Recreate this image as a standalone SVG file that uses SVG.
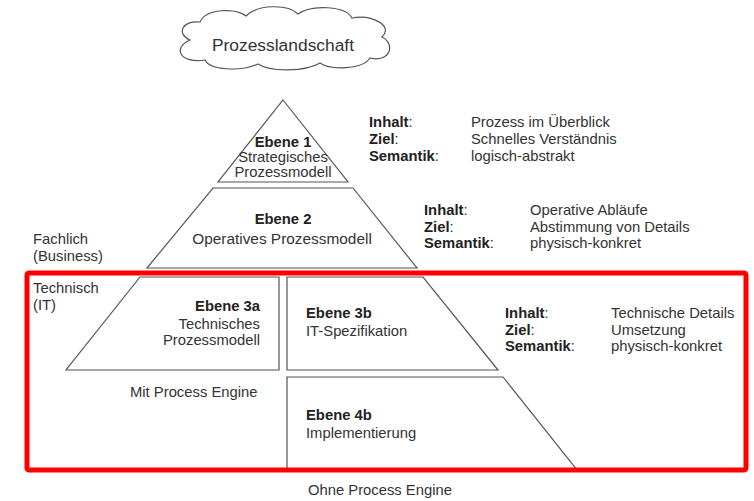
<svg xmlns="http://www.w3.org/2000/svg" width="754" height="501" viewBox="0 0 754 501">
  <style>
    text { font-family: "Liberation Sans", Arial, sans-serif; font-size: 14.8px; fill: #333; }
    .b { font-weight: bold; fill: #222; }
    .mid { text-anchor: middle; }
    .end { text-anchor: end; }
    .shape { fill: #fff; stroke: #555; stroke-width: 1.2; }
    .frame { fill: none; stroke: #f00; stroke-width: 5; }
  </style>
  <rect width="754" height="501" fill="#fff"/>

  <!-- cloud -->
  <g id="cloud">
    <path class="shape" d="M 190,40 C 176,34 182,20 200,22 C 206,8 236,8 246,16 C 258,4 288,4 298,14 C 312,4 346,6 352,18 C 372,14 394,26 382,37 C 396,44 390,63 370,58 C 362,70 330,70 320,63 C 305,72 270,72 258,64 C 240,72 210,70 205,60 C 180,64 172,48 190,40 Z"/>
    <text x="283" y="51" class="mid" style="font-size:17.4px">Prozesslandschaft</text>
  </g>

  <!-- level 1 -->
  <g id="ebene1">
    <polygon class="shape" points="283,100 348,182 218,182"/>
    <text x="283" y="147" class="mid b">Ebene 1</text>
    <text x="283" y="162" class="mid">Strategisches</text>
    <text x="283" y="177" class="mid">Prozessmodell</text>
  </g>
  <g id="info1">
    <text x="369" y="127"><tspan class="b">Inhalt</tspan>:</text>
    <text x="369" y="144"><tspan class="b">Ziel</tspan>:</text>
    <text x="369" y="161"><tspan class="b">Semantik</tspan>:</text>
    <text x="471" y="127">Prozess im Überblick</text>
    <text x="471" y="144">Schnelles Verständnis</text>
    <text x="471" y="161">logisch-abstrakt</text>
  </g>

  <!-- level 2 -->
  <g id="ebene2">
    <polygon class="shape" points="213,188 353,188 417,268 147,268"/>
    <text x="283" y="224" class="mid b">Ebene 2</text>
    <text x="282" y="244" class="mid" style="font-size:15.4px">Operatives Prozessmodell</text>
  </g>
  <g id="info2">
    <text x="424" y="215"><tspan class="b">Inhalt</tspan>:</text>
    <text x="424" y="232"><tspan class="b">Ziel</tspan>:</text>
    <text x="424" y="248"><tspan class="b">Semantik</tspan>:</text>
    <text x="530" y="215">Operative Abläufe</text>
    <text x="530" y="232">Abstimmung von Details</text>
    <text x="530" y="248">physisch-konkret</text>
  </g>

  <g id="side-labels">
    <text x="33" y="244">Fachlich</text>
    <text x="33" y="261">(Business)</text>
    <text x="33" y="293">Technisch</text>
    <text x="33" y="310">(IT)</text>
  </g>

  <!-- level 3a -->
  <g id="ebene3a">
    <polygon class="shape" points="140,277 279,277 279,370 66,370"/>
    <text x="260" y="311" class="end b">Ebene 3a</text>
    <text x="260" y="329" class="end">Technisches</text>
    <text x="260" y="345" class="end">Prozessmodell</text>
  </g>

  <!-- level 3b -->
  <g id="ebene3b">
    <polygon class="shape" points="287,277 423,277 498,370 287,370"/>
    <text x="306" y="318" class="b">Ebene 3b</text>
    <text x="306" y="336">IT-Spezifikation</text>
  </g>
  <g id="info3">
    <text x="505" y="318"><tspan class="b">Inhalt</tspan>:</text>
    <text x="505" y="335"><tspan class="b">Ziel</tspan>:</text>
    <text x="505" y="351"><tspan class="b">Semantik</tspan>:</text>
    <text x="611" y="318">Technische Details</text>
    <text x="611" y="335">Umsetzung</text>
    <text x="611" y="351">physisch-konkret</text>
  </g>

  <!-- level 4b -->
  <g id="ebene4b">
    <polygon class="shape" points="287,377 503,377 577,470 287,470"/>
    <text x="306" y="420" class="b">Ebene 4b</text>
    <text x="306" y="438">Implementierung</text>
  </g>

  <g id="engine-labels">
    <text x="130" y="397">Mit Process Engine</text>
    <text x="308" y="495">Ohne Process Engine</text>
  </g>

  <!-- technical scope frame -->
  <g id="frame">
    <rect class="frame" x="27" y="273" width="719" height="197" rx="2"/>
  </g>
</svg>
